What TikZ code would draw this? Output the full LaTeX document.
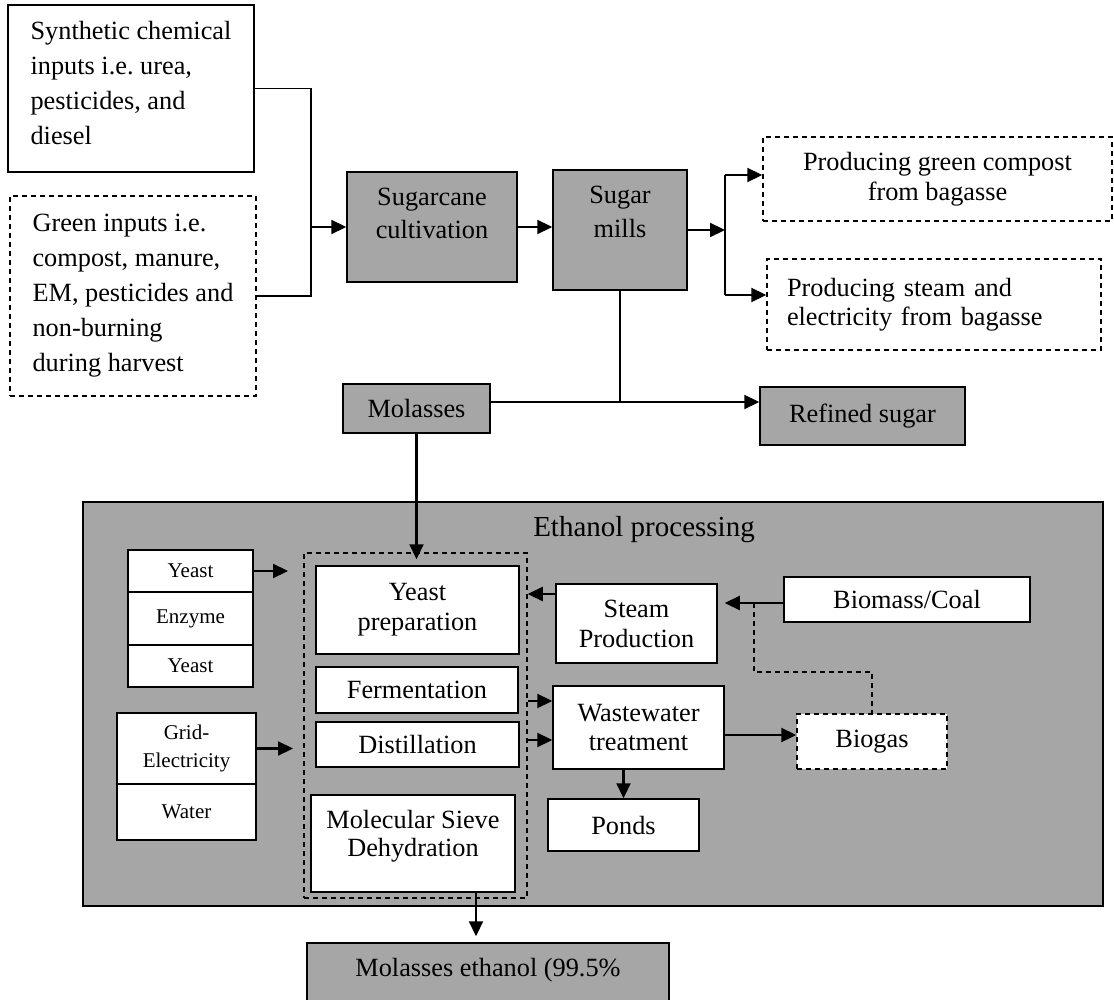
\documentclass[tikz,border=0pt]{standalone}
\usepackage{fontspec}
\setmainfont{Liberation Serif}
\usetikzlibrary{arrows.meta,calc}
\definecolor{boxgray}{HTML}{A6A6A6}
\frenchspacing

\begin{document}
\begin{tikzpicture}[x=1pt,y=-1pt,
  box/.style={draw,line width=1.5pt,fill=white,align=center,inner sep=0pt,font=\fontsize{26.3}{30}\selectfont},
  graybox/.style={box,fill=boxgray},
  dbox/.style={box,dash pattern=on 5pt off 4pt},
  wh/.style 2 args={minimum width=#1pt,minimum height=#2pt},
  lskip/.style={font=\fontsize{26.3}{#1}\selectfont},
  smalltext/.style={font=\fontsize{21}{28}\selectfont},
  arr/.style={line width=2.2pt,-{Triangle[length=15pt,width=14pt]}},
  ln/.style={line width=1.4pt},
  dln/.style={line width=1.4pt,dash pattern=on 5pt off 4pt}]
\useasboundingbox (0,0) rectangle (1114,1000);
\clip (0,0) rectangle (1114,1000);

\node[box,align=left,lskip=35,wh={246}{167},text depth=12pt] (synth) at (131,88.5) {Synthetic chemical\\inputs i.e. urea,\\pesticides, and\\diesel};
\node[dbox,align=left,lskip=35,wh={246}{200}] (green) at (133,296) {Green inputs i.e.\\compost, manure,\\EM, pesticides and\\non-burning\\during harvest};
\node[graybox,lskip=33,wh={170}{110},text depth=27pt] (cane) at (432,227) {Sugarcane\\cultivation};
\node[graybox,lskip=34,wh={134}{120},text depth=36pt] (mills) at (620,230) {Sugar\\mills};
\node[dbox,wh={349}{84}] (compost) at (937.5,179) {Producing green compost\\from bagasse};
\node[dbox,align=left,lskip=29,text width=294pt,inner xsep=20pt,wh={334}{91}] (steamel) at (934,304.5) {Producing steam and\\electricity from bagasse};
\node[graybox,wh={147}{49}] (molasses) at (416.5,408.5) {Molasses};
\node[graybox,wh={205}{58}] (refined) at (862.5,416) {Refined sugar};

\node[graybox,wh={1020}{404}] (ethbox) at (593,704) {};
\node[font=\fontsize{29}{34}\selectfont] (ethtitle) at (644,530) {Ethanol processing};
\node[dbox,fill=none,wh={223}{345}] (group) at (415.5,725.5) {};

\node[box,smalltext,wh={125}{42}] (yeastA) at (190.5,571) {Yeast};
\node[box,smalltext,wh={125}{53}] (enzyme) at (190.5,618.5) {Enzyme};
\node[box,smalltext,wh={125}{42}] (yeastB) at (190.5,666) {Yeast};
\node[box,smalltext,wh={139}{71}] (grid) at (186.5,748.5) {Grid-\\Electricity};
\node[box,smalltext,wh={139}{56}] (water) at (186.5,812) {Water};

\node[box,wh={203}{88}] (yprep) at (417.5,610) {Yeast\\preparation};
\node[box,wh={202}{46}] (ferm) at (417,690) {Fermentation};
\node[box,wh={203}{45}] (dist) at (417.5,744.5) {Distillation};
\node[box,lskip=28,wh={204}{97},text depth=21pt] (sieve) at (413,843.5) {Molecular Sieve\\Dehydration};
\node[box,wh={161}{79}] (steam) at (636.5,623.5) {Steam\\Production};
\node[box,wh={246}{45}] (biomass) at (907,599.5) {Biomass/Coal};
\node[box,lskip=29,wh={171}{83}] (wwt) at (638.5,727.5) {Wastewater\\treatment};
\node[dbox,wh={150}{55}] (biogas) at (872,741.5) {Biogas};
\node[box,wh={151}{52}] (ponds) at (623.5,825) {Ponds};
\node[graybox,wh={362}{80},text depth=32pt] (ethout) at (488,983) {Molasses ethanol (99.5\%};

\coordinate (jL) at (311,227);
\coordinate (jRt) at (725,175);
\coordinate (jRb) at (725,295);
\coordinate (jM) at (620,402);
\coordinate (yeastin) at (288,571);
\coordinate (gridin) at (293,748.5);
\coordinate (jB) at (754,603);
\coordinate (jB2) at (754,672);
\coordinate (sieveout) at ([xshift=63pt]sieve.south);

\draw[ln] (synth.east) -| (jL) |- (green.east);
\draw[arr] (jL) -- (cane.west);
\draw[arr] (cane.east) -- (cane.east -| mills.west);
\draw[arr] (mills.east) -- (mills.east -| jRt);
\draw[ln] (jRt) -- (jRb);
\draw[arr] (jRt) -- (jRt -| compost.west);
\draw[arr] (jRb) -- (jRb -| steamel.west);
\draw[ln] (mills.south) -- (jM);
\draw[ln] (molasses.east |- jM) -- (jM);
\draw[arr] (jM) -- (jM -| refined.west);
\draw[arr,shorten >=-7pt] (molasses.south) -- (molasses.south |- group.north);
\draw[arr] (yeastA.east) -- (yeastin);
\draw[arr] (grid.east) -- (gridin);
\draw[arr] (steam.west |- 0,594) -- (group.east |- 0,594);
\draw[arr,shorten >=7pt] (jB -| biomass.west) -- (jB -| steam.east);
\draw[dln] (jB) -- (jB2) -| (biogas.north);
\draw[arr] (group.east |- 0,701) -- (wwt.west |- 0,701);
\draw[arr] (group.east |- 0,740) -- (wwt.west |- 0,740);
\draw[arr] (wwt.east |- 0,735) -- (biogas.west |- 0,735);
\draw[arr] (wwt.south -| ponds.north) -- (ponds.north);
\draw[arr,shorten >=6pt] (sieveout) -- (sieveout |- ethout.north);
\end{tikzpicture}
\end{document}
